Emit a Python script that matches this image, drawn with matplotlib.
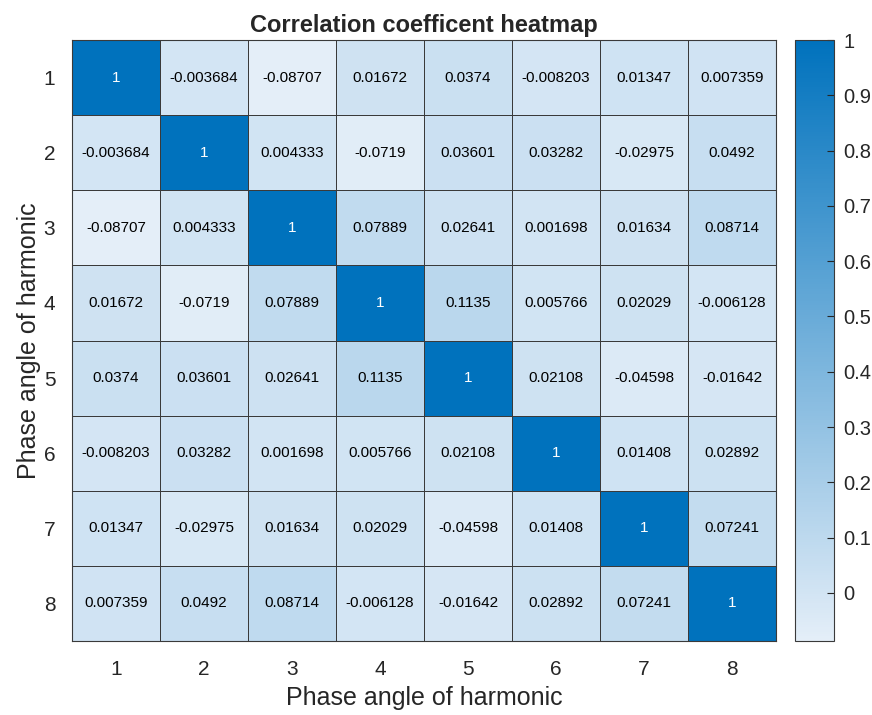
import numpy as np
import matplotlib.pyplot as plt
from matplotlib.colors import LinearSegmentedColormap

plt.rcParams['font.family'] = ['Liberation Sans', 'DejaVu Sans']

# harmonic indices on both axes
labels = ['1', '2', '3', '4', '5', '6', '7', '8']

# correlation matrix, row by row
row1 = [1, -0.003684, -0.08707, 0.01672, 0.0374, -0.008203, 0.01347, 0.007359]
row2 = [-0.003684, 1, 0.004333, -0.0719, 0.03601, 0.03282, -0.02975, 0.0492]
row3 = [-0.08707, 0.004333, 1, 0.07889, 0.02641, 0.001698, 0.01634, 0.08714]
row4 = [0.01672, -0.0719, 0.07889, 1, 0.1135, 0.005766, 0.02029, -0.006128]
row5 = [0.0374, 0.03601, 0.02641, 0.1135, 1, 0.02108, -0.04598, -0.01642]
row6 = [-0.008203, 0.03282, 0.001698, 0.005766, 0.02108, 1, 0.01408, 0.02892]
row7 = [0.01347, -0.02975, 0.01634, 0.02029, -0.04598, 0.01408, 1, 0.07241]
row8 = [0.007359, 0.0492, 0.08714, -0.006128, -0.01642, 0.02892, 0.07241, 1]

corr = np.array([row1, row2, row3, row4, row5, row6, row7, row8])

blues = LinearSegmentedColormap.from_list('mblue', ['#e4eef8', '#0072bd'])

fig = plt.figure(figsize=(8.72, 7.15), dpi=100)
ax = fig.add_axes([72 / 872, 1 - 641 / 715, 704 / 872, 601 / 715])
cax = fig.add_axes([795 / 872, 1 - 641 / 715, 39 / 872, 601 / 715])

n = len(labels)
mesh = ax.pcolormesh(np.arange(n + 1), np.arange(n + 1), corr, cmap=blues,
                     vmin=corr.min(), vmax=corr.max(),
                     edgecolor='#3a3a3a', linewidth=0.7)
ax.set_xlim(0, n)
ax.set_ylim(n, 0)

# value text in every cell
for i in range(n):
    for j in range(n):
        v = corr[i, j]
        txt = '%.4g' % v
        col = 'white' if v > 0.5 else 'black'
        ax.text(j + 0.5, i + 0.5, txt, ha='center', va='center',
                fontsize=11, color=col)

ax.set_xticks(np.arange(n) + 0.5)
ax.set_xticklabels(labels, fontsize=15, color='#262626')
ax.set_yticks(np.arange(n) + 0.5)
ax.set_yticklabels(labels, fontsize=15, color='#262626')
ax.tick_params(axis='x', length=0, pad=14)
ax.tick_params(axis='y', length=0, pad=12)
for s in ax.spines.values():
    s.set_color('#3a3a3a')
    s.set_linewidth(0.8)

ax.set_xlabel('Phase angle of harmonic', fontsize=18, color='#262626', labelpad=5)
ax.set_ylabel('Phase angle of harmonic', fontsize=18, color='#262626', labelpad=2)
ax.set_title('Correlation coefficent heatmap', fontsize=17, fontweight='bold',
             color='#262626', pad=6)

cb = fig.colorbar(mesh, cax=cax)
cb.set_ticks([0, 0.1, 0.2, 0.3, 0.4, 0.5, 0.6, 0.7, 0.8, 0.9, 1])
cb.set_ticklabels(['0', '0.1', '0.2', '0.3', '0.4', '0.5', '0.6', '0.7', '0.8', '0.9', '1'])
cax.tick_params(labelsize=14.5, direction='in', length=5, color='#262626',
                labelcolor='#262626', pad=7)
cb.outline.set_edgecolor('#3a3a3a')
cb.outline.set_linewidth(0.8)

fig.savefig('out.png', dpi=100)
